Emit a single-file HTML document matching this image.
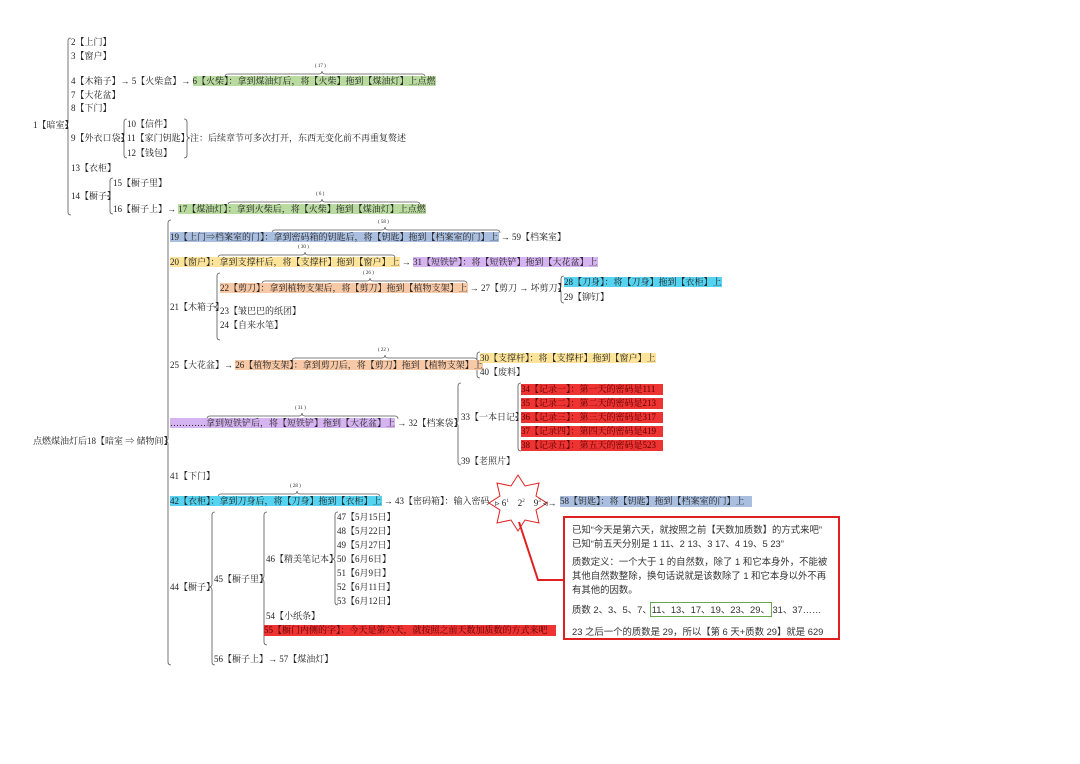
<!DOCTYPE html>
<html><head><meta charset="utf-8"><style>
body{margin:0;background:#fff;}
#c{position:relative;width:1080px;height:764px;overflow:hidden;font-family:"Liberation Serif","Noto Serif CJK SC",serif;color:#222;}
.t{position:absolute;white-space:nowrap;font-size:9px;line-height:11px;height:11px;}
.g{background:#b9dba0}.b{background:#aabfe0}.y{background:#fde49a}.p{background:#d6b4f1}.o{background:#f8c9a6}.c{background:#55d3f1}.r{background:#ee3333;color:#5a0000}
.box{position:absolute;left:563px;top:516px;width:277px;height:124px;border:2px solid #e02020;box-sizing:border-box;font-family:"Liberation Sans","Noto Sans CJK SC",sans-serif;font-size:9.4px;color:#333;}
.box div{position:absolute;left:7px;white-space:nowrap;}
svg{position:absolute;left:0;top:0}
</style></head><body><div id="c">
<svg width="1080" height="764" fill="none" stroke="#555" stroke-width="0.8">
<path d="M71 38 Q68 38 68 41 L68 122 Q68 125 65 125 Q68 125 68 128 L68 212 Q68 215 71 215"/>
<path d="M127 119 Q124 119 124 122 L124 135 Q124 138 121 138 Q124 138 124 141 L124 155 Q124 158 127 158"/>
<path d="M184 119 Q187 119 187 122 L187 135 Q187 138 190 138 Q187 138 187 141 L187 155 Q187 158 184 158"/>
<path d="M113 178 Q110 178 110 181 L110 193 Q110 196 107 196 Q110 196 110 199 L110 211 Q110 214 113 214"/>
<path d="M171 220 Q168 220 168 223 L168 438 Q168 441 165 441 Q168 441 168 444 L168 662 Q168 665 171 665"/>
<path d="M220 273 Q217 273 217 276 L217 304 Q217 307 214 307 Q217 307 217 310 L217 337 Q217 340 220 340"/>
<path d="M564 276 Q561 276 561 279 L561 286 Q561 289 558 289 Q561 289 561 292 L561 300 Q561 303 564 303"/>
<path d="M480 352 Q477 352 477 355 L477 362 Q477 365 474 365 Q477 365 477 368 L477 375 Q477 378 480 378"/>
<path d="M461 383 Q458 383 458 386 L458 420 Q458 423 455 423 Q458 423 458 426 L458 462 Q458 465 461 465"/>
<path d="M521 383 Q518 383 518 386 L518 414 Q518 417 515 417 Q518 417 518 420 L518 448 Q518 451 521 451"/>
<path d="M215 512 Q212 512 212 515 L212 584 Q212 587 209 587 Q212 587 212 590 L212 662 Q212 665 215 665"/>
<path d="M267 512 Q264 512 264 515 L264 576 Q264 579 261 579 Q264 579 264 582 L264 642 Q264 645 267 645"/>
<path d="M338 512 Q335 512 335 515 L335 556 Q335 559 332 559 Q335 559 335 562 L335 602 Q335 605 338 605"/>
<g stroke-width="0.7">
<path d="M225 77 Q225 74 228 74 L319 74 Q322 74 322 71 Q322 74 325 74 L422 74 Q425 74 425 77"/>
<path d="M228 205 Q228 202 231 202 L319 202 Q322 202 322 199 Q322 202 325 202 L417 202 Q420 202 420 205"/>
<path d="M272 233 Q272 230 275 230 L382 230 Q385 230 385 227 Q385 230 388 230 L497 230 Q500 230 500 233"/>
<path d="M218 258 Q218 255 221 255 L302 255 Q305 255 305 252 Q305 255 308 255 L392 255 Q395 255 395 258"/>
<path d="M262 284 Q262 281 265 281 L367 281 Q370 281 370 278 Q370 281 373 281 L464 281 Q467 281 467 284"/>
<path d="M292 361 Q292 358 295 358 L382 358 Q385 358 385 355 Q385 358 388 358 L474 358 Q477 358 477 361"/>
<path d="M207 419 Q207 416 210 416 L299 416 Q302 416 302 413 Q302 416 305 416 L395 416 Q398 416 398 419"/>
<path d="M218 497 Q218 494 221 494 L294 494 Q297 494 297 491 Q297 494 300 494 L377 494 Q380 494 380 497"/>
</g>
<polygon points="518,475 525,486 539,483 536,496 547,503 536,510 539,523 525,520 518,531 511,520 497,523 500,510 489,503 500,496 497,483 511,486" fill="#fff" stroke="#e02020" stroke-width="1"/>
<polyline points="519,522 538,580 563,580" stroke="#e02020" stroke-width="2"/>
</svg>
<div class="t" style="left:33px;top:120px">1【暗室】</div>
<div class="t" style="left:71px;top:37px">2【上门】</div>
<div class="t" style="left:71px;top:51px">3【窗户】</div>
<div class="t" style="left:71px;top:76px">4【木箱子】→ 5【火柴盒】→ <span class="g">6【火柴】：拿到煤油灯后，将【火柴】拖到【煤油灯】上点燃</span></div>
<div class="t" style="left:71px;top:90px">7【大花盆】</div>
<div class="t" style="left:71px;top:103px">8【下门】</div>
<div class="t" style="left:71px;top:133px">9【外衣口袋】</div>
<div class="t" style="left:127px;top:119px">10【信件】</div>
<div class="t" style="left:127px;top:133px">11【家门钥匙】</div>
<div class="t" style="left:127px;top:148px">12【钱包】</div>
<div class="t" style="left:190px;top:133px">注：后续章节可多次打开，东西无变化前不再重复赘述</div>
<div class="t" style="left:71px;top:163px">13【衣柜】</div>
<div class="t" style="left:71px;top:191px">14【橱子】</div>
<div class="t" style="left:113px;top:178px">15【橱子里】</div>
<div class="t" style="left:113px;top:204px">16【橱子上】→ <span class="g">17【煤油灯】：拿到火柴后，将【火柴】拖到【煤油灯】上点燃</span></div>
<div class="t" style="left:33px;top:436px">点燃煤油灯后18【暗室 ⇒ 储物间】</div>
<div class="t" style="left:170px;top:232px"><span class="b">19【上门⇒档案室的门】：拿到密码箱的钥匙后，将【钥匙】拖到【档案室的门】上</span> → 59【档案室】</div>
<div class="t" style="left:170px;top:257px"><span class="y">20【窗户】：拿到支撑杆后，将【支撑杆】拖到【窗户】上</span> → <span class="p">31【短铁铲】：将【短铁铲】拖到【大花盆】上</span></div>
<div class="t" style="left:170px;top:302px">21【木箱子】</div>
<div class="t" style="left:220px;top:283px"><span class="o">22【剪刀】：拿到植物支架后，将【剪刀】拖到【植物支架】上</span> → 27【剪刀 → 坏剪刀】</div>
<div class="t" style="left:564px;top:277px"><span class="c">28【刀身】：将【刀身】拖到【衣柜】上</span></div>
<div class="t" style="left:564px;top:292px">29【铆钉】</div>
<div class="t" style="left:220px;top:306px">23【皱巴巴的纸团】</div>
<div class="t" style="left:220px;top:320px">24【自来水笔】</div>
<div class="t" style="left:170px;top:360px">25【大花盆】→ <span class="o">26【植物支架】：拿到剪刀后，将【剪刀】拖到【植物支架】上</span></div>
<div class="t" style="left:480px;top:353px"><span class="y">30【支撑杆】：将【支撑杆】拖到【窗户】上</span></div>
<div class="t" style="left:480px;top:367px">40【废料】</div>
<div class="t" style="left:170px;top:418px"><span class="p">…………拿到短铁铲后，将【短铁铲】拖到【大花盆】上</span> → 32【档案袋】</div>
<div class="t" style="left:461px;top:412px">33【一本日记】</div>
<div class="t" style="left:521px;top:384px"><span class="r" style="display:inline-block;width:142px">34【记录一】：第一天的密码是111</span></div>
<div class="t" style="left:521px;top:398px"><span class="r" style="display:inline-block;width:142px">35【记录二】：第二天的密码是213</span></div>
<div class="t" style="left:521px;top:412px"><span class="r" style="display:inline-block;width:142px">36【记录三】：第三天的密码是317</span></div>
<div class="t" style="left:521px;top:426px"><span class="r" style="display:inline-block;width:142px">37【记录四】：第四天的密码是419</span></div>
<div class="t" style="left:521px;top:440px"><span class="r" style="display:inline-block;width:142px">38【记录五】：第五天的密码是523</span></div>
<div class="t" style="left:461px;top:456px">39【老照片】</div>
<div class="t" style="left:170px;top:471px">41【下门】</div>
<div class="t" style="left:170px;top:496px"><span class="c">42【衣柜】：拿到刀身后，将【刀身】拖到【衣柜】上</span> → 43【密码箱】：输入密码</div>
<div class="t" style="left:495px;top:496px">▹ 6<sup style="font-size:5px">1</sup>&nbsp;&nbsp;&nbsp;&nbsp;2<sup style="font-size:5px">2</sup>&nbsp;&nbsp;&nbsp;&nbsp;9<sup style="font-size:5px">3</sup> ◃→</div>
<div class="t" style="left:560px;top:496px"><span class="b" style="display:inline-block;width:192px">58【钥匙】：将【钥匙】拖到【档案室的门】上</span></div>
<div class="t" style="left:170px;top:582px">44【橱子】</div>
<div class="t" style="left:214px;top:574px">45【橱子里】</div>
<div class="t" style="left:266px;top:554px">46【精美笔记本】</div>
<div class="t" style="left:337px;top:512px">47【5月15日】</div>
<div class="t" style="left:337px;top:526px">48【5月22日】</div>
<div class="t" style="left:337px;top:540px">49【5月27日】</div>
<div class="t" style="left:337px;top:554px">50【6月6日】</div>
<div class="t" style="left:337px;top:568px">51【6月9日】</div>
<div class="t" style="left:337px;top:582px">52【6月11日】</div>
<div class="t" style="left:337px;top:596px">53【6月12日】</div>
<div class="t" style="left:266px;top:611px">54【小纸条】</div>
<div class="t" style="left:264px;top:625px"><span class="r" style="display:inline-block;width:292px">55【橱门内侧的字】：今天是第六天，就按照之前天数加质数的方式来吧</span></div>
<div class="t" style="left:214px;top:654px">56【橱子上】→ 57【煤油灯】</div>
<div style="position:absolute;font-size:5px;left:315px;top:64px">( 17 )</div>
<div style="position:absolute;font-size:5px;left:316px;top:192px">( 6 )</div>
<div style="position:absolute;font-size:5px;left:378px;top:220px">( 58 )</div>
<div style="position:absolute;font-size:5px;left:298px;top:245px">( 30 )</div>
<div style="position:absolute;font-size:5px;left:363px;top:271px">( 26 )</div>
<div style="position:absolute;font-size:5px;left:378px;top:348px">( 22 )</div>
<div style="position:absolute;font-size:5px;left:295px;top:406px">( 31 )</div>
<div style="position:absolute;font-size:5px;left:290px;top:484px">( 28 )</div>
<div class="box">
<div style="top:4px">已知“今天是第六天，就按照之前【天数加质数】的方式来吧”</div>
<div style="top:18px">已知“前五天分别是 1 11、2 13、3 17、4 19、5 23”</div>
<div style="top:36px">质数定义：一个大于 1 的自然数，除了 1 和它本身外，不能被</div>
<div style="top:50px">其他自然数整除，换句话说就是该数除了 1 和它本身以外不再</div>
<div style="top:64px">有其他的因数。</div>
<div style="top:84px">质数 2、3、5、7、<span style="outline:1px solid #6aa84f;outline-offset:1px">11、13、17、19、23、29、</span> 31、37……</div>
<div style="top:106px">23 之后一个的质数是 29，所以【第 6 天+质数 29】就是 629</div>
</div>
</div></body></html>
